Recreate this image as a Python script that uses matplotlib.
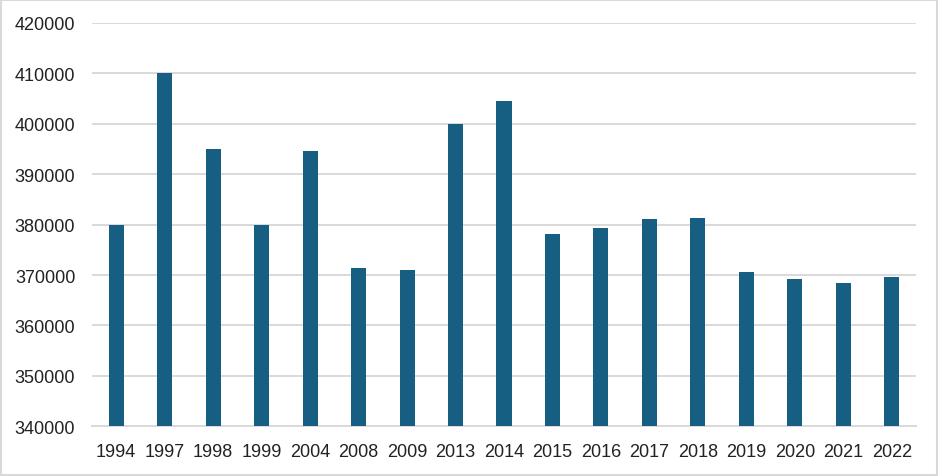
import matplotlib
matplotlib.use("Agg")
import matplotlib.pyplot as plt
from matplotlib.patches import Rectangle

# Data
years = ["1994", "1997", "1998", "1999", "2004", "2008", "2009", "2013", "2014",
         "2015", "2016", "2017", "2018", "2019", "2020", "2021", "2022"]
values = [380000, 410000, 395000, 380000, 394600, 371400, 371000, 400000, 404500,
          378200, 379300, 381100, 381300, 370600, 369200, 368400, 369600]
y_ticks = [340000, 350000, 360000, 370000, 380000, 390000, 400000, 410000, 420000]

bar_color = "#175F82"
grid_color = "#D9D9D9"
text_color = "#222222"

plt.rcParams['font.family'] = ['Liberation Sans', 'DejaVu Sans']

fig = plt.figure(figsize=(9.39, 4.77), dpi=100)
ax = fig.add_axes([92 / 939, 1 - 427.3 / 477, (916 - 92) / 939, (427.3 - 24) / 477])

x = range(len(years))
ax.bar(x, values, width=0.31, color=bar_color, zorder=3)

ax.set_ylim(340000, 420000)
ax.set_xlim(-0.5, len(years) - 0.5)
ax.set_yticks(y_ticks)
ax.set_yticklabels([str(v) for v in y_ticks])
ax.set_xticks(list(x))
ax.set_xticklabels(years)

ax.grid(True, axis='y', color=grid_color, linewidth=1.4, zorder=0)
for side in ['top', 'right', 'left']:
    ax.spines[side].set_visible(False)
ax.spines['bottom'].set_color(grid_color)
ax.spines['bottom'].set_linewidth(1.4)
ax.tick_params(axis='both', length=0, labelsize=13, colors=text_color)
ax.tick_params(axis='y', pad=12)
ax.tick_params(axis='x', pad=12)

# light gray border around the whole chart
fig.patches.append(Rectangle((0.001, 0.002), 0.997, 0.995, transform=fig.transFigure,
                             fill=False, edgecolor="#D9D9D9", linewidth=1.5))

fig.savefig("out.png", dpi=100)
